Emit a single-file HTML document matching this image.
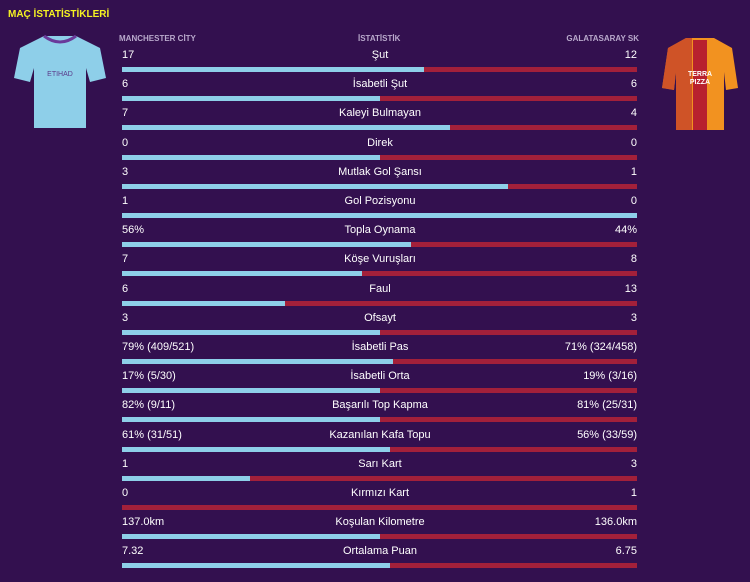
<!DOCTYPE html>
<html><head><meta charset="utf-8"><style>
body{margin:0;width:750px;height:582px;background:#33104f;font-family:"Liberation Sans",sans-serif;color:#fff;position:relative;overflow:hidden}
.t{position:absolute;font-size:11px;white-space:nowrap}
.h{position:absolute;font-size:8px;font-weight:bold;color:#b9a9cc;top:34px}
.bar{position:absolute;left:122px;width:515px;height:5px;background:#a3203a}
.bar i{display:block;height:5px;background:#8ecfe9}
</style></head><body>
<div class="t" style="left:8px;top:9px;font-size:10px;font-weight:bold;color:#f5f222">MAÇ İSTATİSTİKLERİ</div>
<div class="h" style="left:119px">MANCHESTER CİTY</div>
<div class="h" style="left:358px">İSTATİSTİK</div>
<div class="h" style="right:111px">GALATASARAY SK</div>
<svg style="position:absolute;left:14px;top:34px" width="92" height="96" viewBox="0 0 92 96">
<path d="M30 2 L62 2 L86 14 L92 44 L76 48 L72 34 L72 94 L20 94 L20 34 L16 48 L0 44 L6 14 Z" fill="#8ecfe9"/>
<path d="M30 2 Q46 14 62 2" fill="none" stroke="#6a3a9a" stroke-width="3"/>
<text x="46" y="42" font-size="7" fill="#5a3a8a" text-anchor="middle" font-family="Liberation Sans">ETIHAD</text>
</svg>
<svg style="position:absolute;left:662px;top:36px" width="76" height="96" viewBox="0 0 76 96">
<path d="M24 2 L52 2 L70 12 L76 52 L64 54 L62 36 L62 94 L14 94 L14 36 L12 54 L0 52 L6 12 Z" fill="#f29220"/>
<rect x="31" y="4" width="14" height="90" fill="#b8212e"/>
<path d="M6 12 L24 2 L30 2 L30 94 L14 94 L14 36 L12 54 L0 52 Z" fill="#c0392b" opacity=".7"/>
<text x="38" y="40" font-size="7" fill="#fff" text-anchor="middle" font-weight="bold" font-family="Liberation Sans">TERRA</text>
<text x="38" y="48" font-size="7" fill="#fff" text-anchor="middle" font-weight="bold" font-family="Liberation Sans">PIZZA</text>
</svg>
<div id="rows"></div>
<script>
var d=[["17","Şut","12",424],["6","İsabetli Şut","6",380],["7","Kaleyi Bulmayan","4",450],["0","Direk","0",380],["3","Mutlak Gol Şansı","1",508],["1","Gol Pozisyonu","0",637],["56%","Topla Oynama","44%",411],["7","Köşe Vuruşları","8",362],["6","Faul","13",285],["3","Ofsayt","3",380],["79% (409/521)","İsabetli Pas","71% (324/458)",393],["17% (5/30)","İsabetli Orta","19% (3/16)",380],["82% (9/11)","Başarılı Top Kapma","81% (25/31)",380],["61% (31/51)","Kazanılan Kafa Topu","56% (33/59)",390],["1","Sarı Kart","3",250],["0","Kırmızı Kart","1",122],["137.0km","Koşulan Kilometre","136.0km",380],["7.32","Ortalama Puan","6.75",390]];
var h="";d.forEach(function(r,i){var y=67+i*29.2;
h+='<div class="t" style="left:122px;top:'+(y-18)+'px">'+r[0]+'</div><div class="t" style="left:280px;width:200px;text-align:center;top:'+(y-18)+'px">'+r[1]+'</div><div class="t" style="right:113px;top:'+(y-18)+'px">'+r[2]+'</div><div class="bar" style="top:'+y+'px"><i style="width:'+(r[3]-122)+'px"></i></div>';});
document.getElementById("rows").innerHTML=h;
</script>
</body></html>
